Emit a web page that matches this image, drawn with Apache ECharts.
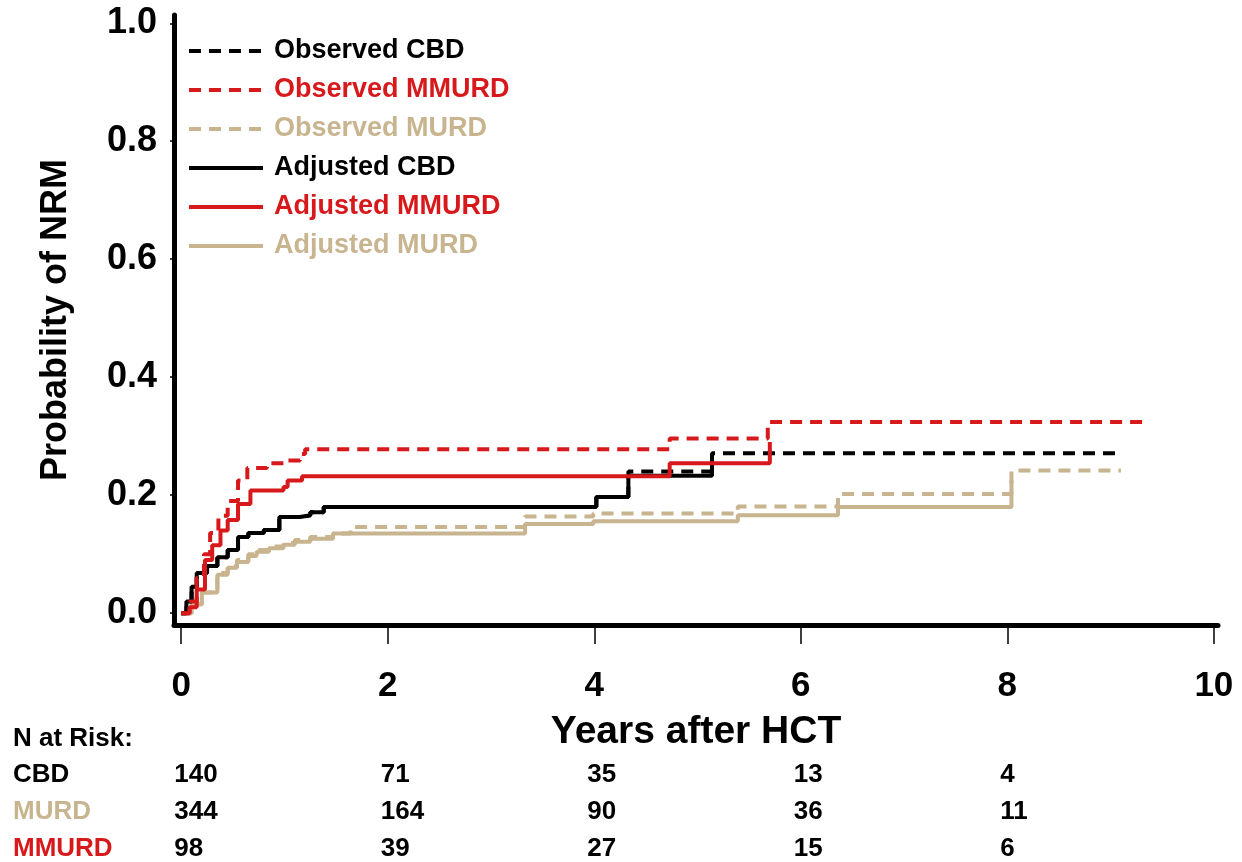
<!DOCTYPE html>
<html>
<head>
<meta charset="utf-8">
<script src="https://cdn.jsdelivr.net/npm/echarts@6/dist/echarts.min.js"></script>
<style>
    html, body { margin: 0; padding: 0; background: #fff; }
    #nrm_chart { width: 1242px; height: 862px; }
</style>
</head>
<body>
<div id="nrm_chart"></div>
<script>
// Colours of the three donor groups
var black = '#000000';
var red = '#d7191c';
var tan = '#c8b48f';

// Observed curves (time in years, cumulative probability from that time on)
var obsCbdT = [0, 0.05, 0.1, 0.15, 0.25, 0.35, 0.45, 0.55, 0.65, 0.8, 0.95, 1.15, 1.25, 1.38, 4.02, 4.33, 5.14, 9.06];
var obsCbdP = [0, 0.02, 0.045, 0.068, 0.08, 0.095, 0.107, 0.129, 0.136, 0.141, 0.163, 0.166, 0.171, 0.18, 0.197, 0.24, 0.271, 0.271];

var obsMmurdT = [0, 0.08, 0.15, 0.22, 0.28, 0.36, 0.45, 0.55, 0.64, 0.83, 1.0, 1.15, 1.2, 4.73, 5.68, 9.35];
var obsMmurdP = [0, 0.02, 0.06, 0.1, 0.136, 0.165, 0.19, 0.225, 0.246, 0.254, 0.259, 0.27, 0.278, 0.296, 0.324, 0.324];

var obsMurdT = [0, 0.1, 0.2, 0.35, 0.45, 0.54, 0.65, 0.73, 0.85, 0.99, 1.1, 1.25, 1.47, 1.64, 3.33, 3.99, 5.39, 6.36, 8.04, 9.1];
var obsMurdP = [0, 0.015, 0.035, 0.068, 0.08, 0.09, 0.1, 0.107, 0.113, 0.119, 0.124, 0.129, 0.135, 0.146, 0.164, 0.169, 0.181, 0.202, 0.242, 0.242];

// Adjusted curves
var adjCbdT = [0, 0.05, 0.1, 0.15, 0.25, 0.35, 0.45, 0.55, 0.65, 0.8, 0.95, 1.15, 1.25, 1.38, 4.02, 4.33, 5.14];
var adjCbdP = [0, 0.02, 0.045, 0.068, 0.08, 0.095, 0.107, 0.129, 0.136, 0.141, 0.163, 0.166, 0.171, 0.18, 0.197, 0.233, 0.265];

var adjMmurdT = [0, 0.08, 0.15, 0.23, 0.3, 0.38, 0.45, 0.55, 0.67, 0.99, 1.03, 1.17, 4.73, 5.7];
var adjMmurdP = [0, 0.01, 0.04, 0.09, 0.115, 0.14, 0.158, 0.185, 0.208, 0.214, 0.225, 0.232, 0.254, 0.29];

var adjMurdT = [0, 0.1, 0.2, 0.35, 0.45, 0.54, 0.65, 0.73, 0.85, 0.99, 1.1, 1.25, 1.47, 3.33, 3.99, 5.39, 6.36, 8.04];
var adjMurdP = [0, 0.015, 0.035, 0.065, 0.077, 0.087, 0.097, 0.104, 0.11, 0.116, 0.121, 0.126, 0.135, 0.151, 0.156, 0.166, 0.18, 0.225];

// Axis ticks
var xTicks = [0, 2, 4, 6, 8, 10];
var yTicks = [0, 0.2, 0.4, 0.6, 0.8, 1.0];

// Number at risk table
var riskTimes = [0, 2, 4, 6, 8];
var riskGroups = ['CBD', 'MURD', 'MMURD'];
var riskColors = [black, tan, red];
var riskCbd = [140, 71, 35, 13, 4];
var riskMurd = [344, 164, 90, 36, 11];
var riskMmurd = [98, 39, 27, 15, 6];

var font = '"Liberation Sans", Arial, sans-serif';

function pairs(t, p) {
    return t.map(function (v, i) { return [v, p[i]]; });
}

function curve(name, color, dashed, t, p) {
    return {
        name: name,
        type: 'line',
        step: 'end',
        symbol: 'none',
        color: color,
        lineStyle: { color: color, width: 4, type: dashed ? [12, 8] : 'solid' },
        data: pairs(t, p)
    };
}

var chart = echarts.init(document.getElementById('nrm_chart'));

var options = {
    animation: false,
    backgroundColor: '#fff',
    grid: { left: 174, right: 24, top: 15, bottom: 237 },
    legend: {
        orient: 'vertical',
        left: 182,
        top: 31,
        itemWidth: 74,
        itemHeight: 14,
        itemGap: 9,
        selectedMode: false,
        itemStyle: { opacity: 0 },
        lineStyle: { width: 4 },
        textStyle: { fontFamily: font, fontWeight: 'bold', fontSize: 27, lineHeight: 30, padding: [0, 0, 0, 6] },
        data: [
            { name: 'Observed CBD', textStyle: { color: black } },
            { name: 'Observed MMURD', textStyle: { color: red } },
            { name: 'Observed MURD', textStyle: { color: tan } },
            { name: 'Adjusted CBD', textStyle: { color: black } },
            { name: 'Adjusted MMURD', textStyle: { color: red } },
            { name: 'Adjusted MURD', textStyle: { color: tan } }
        ]
    },
    xAxis: {
        type: 'value',
        min: -0.07,
        max: 10.04,
        name: 'Years after HCT',
        nameLocation: 'middle',
        nameGap: 88,
        nameTextStyle: { fontFamily: font, fontWeight: 'bold', fontSize: 39, color: black },
        axisLine: { show: true, onZero: false, lineStyle: { color: black, width: 5 } },
        axisTick: { show: true, length: 19, customValues: xTicks, lineStyle: { color: black, width: 1.5 } },
        axisLabel: { customValues: xTicks, margin: 44, fontFamily: font, fontWeight: 'bold', fontSize: 35, color: black },
        splitLine: { show: false }
    },
    yAxis: {
        type: 'value',
        min: -0.02,
        max: 1.014,
        name: 'Probability of NRM',
        nameLocation: 'middle',
        nameGap: 100,
        nameTextStyle: { fontFamily: font, fontWeight: 'bold', fontSize: 36, color: black },
        axisLine: { show: true, onZero: false, lineStyle: { color: black, width: 5 } },
        axisTick: { show: true, length: 4, customValues: yTicks, lineStyle: { color: black, width: 1.5 } },
        axisLabel: {
            customValues: yTicks,
            margin: 17,
            fontFamily: font,
            fontWeight: 'bold',
            fontSize: 36,
            color: black,
            formatter: function (v) { return v.toFixed(1); }
        },
        splitLine: { show: false }
    },
    series: [
        curve('Adjusted MURD', tan, false, adjMurdT, adjMurdP),
        curve('Observed MURD', tan, true, obsMurdT, obsMurdP),
        curve('Adjusted CBD', black, false, adjCbdT, adjCbdP),
        curve('Observed CBD', black, true, obsCbdT, obsCbdP),
        curve('Adjusted MMURD', red, false, adjMmurdT, adjMmurdP),
        curve('Observed MMURD', red, true, obsMmurdT, obsMmurdP)
    ]
};

chart.setOption(options);

// Number at risk table, placed under the x axis ticks
var riskRows = [riskCbd, riskMurd, riskMmurd];
var rowY = [777, 814, 851];
var graphics = [{
    type: 'text',
    left: 13,
    top: 741 - 15,
    style: { text: 'N at Risk:', font: 'bold 26px ' + font, fill: black }
}];
riskGroups.forEach(function (g, r) {
    graphics.push({
        type: 'text',
        left: 13,
        top: rowY[r] - 15,
        style: { text: g, font: 'bold 26px ' + font, fill: riskColors[r] }
    });
    riskTimes.forEach(function (t, i) {
        var px = chart.convertToPixel({ xAxisIndex: 0 }, t);
        graphics.push({
            type: 'text',
            left: px - 7,
            top: rowY[r] - 15,
            style: { text: String(riskRows[r][i]), font: 'bold 26px ' + font, fill: black }
        });
    });
});

chart.setOption({ graphic: graphics });

window.onresize = function () {
    chart.resize();
};
</script>
</body>
</html>
